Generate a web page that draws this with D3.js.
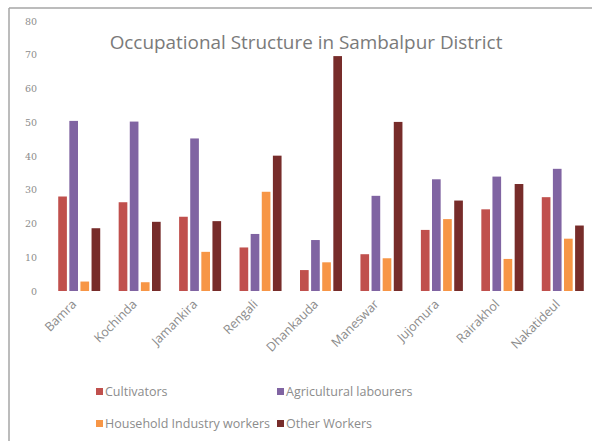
<!DOCTYPE html>
<html>
<head>
<meta charset="utf-8">
<script src="https://cdn.jsdelivr.net/npm/d3@7/dist/d3.min.js"></script>
<style>
  html, body { margin: 0; padding: 0; background: #fff; }
  svg { display: block; }
</style>
</head>
<body>
<script>
const categories = ["Bamra", "Kochinda", "Jamankira", "Rengali", "Dhankauda", "Maneswar", "Jujomura", "Rairakhol", "Nakatideul"];
const seriesNames = ["Cultivators", "Agricultural labourers", "Household Industry workers", "Other Workers"];
const cultivators = [28.0, 26.3, 22.0, 12.9, 6.2, 10.9, 18.1, 24.2, 27.8];
const agricultural = [50.4, 50.2, 45.2, 16.9, 15.1, 28.2, 33.1, 33.9, 36.2];
const household = [2.8, 2.6, 11.6, 29.4, 8.5, 9.7, 21.3, 9.5, 15.5];
const otherWorkers = [18.6, 20.5, 20.7, 40.1, 69.6, 50.1, 26.8, 31.7, 19.4];
const yTicks = [0, 10, 20, 30, 40, 50, 60, 70, 80];
const colors = ["#c0504d", "#8064a2", "#f79646", "#772c2a"];

const seriesValues = [cultivators, agricultural, household, otherWorkers];
const W = 592, H = 443;

const svg = d3.select("body").append("svg").attr("width", W).attr("height", H);

// frame (left and top edges visible)
svg.append("line").attr("x1", 9).attr("y1", 8).attr("x2", W).attr("y2", 8)
  .attr("stroke", "#a6a6a6").attr("stroke-width", 1.5);
svg.append("line").attr("x1", 9).attr("y1", 8).attr("x2", 9).attr("y2", 441)
  .attr("stroke", "#a6a6a6").attr("stroke-width", 1.5);

const x0 = d3.scaleBand().domain(categories).range([49, 593]).paddingInner(0).paddingOuter(0);
const x1 = d3.scaleBand().domain(seriesNames).range([-21, 21]).paddingInner(0.22);
const y = d3.scaleLinear().domain([0, 80]).range([291, 21]);

// title
svg.append("text").attr("x", 306).attr("y", 49).attr("text-anchor", "middle")
  .attr("font-family", "Open Sans, sans-serif").attr("font-size", 18.9)
  .attr("fill", "#7a7a7a").text("Occupational Structure in Sambalpur District");

// y axis labels
const yAxis = d3.axisLeft(y).tickValues(yTicks).tickSize(0).tickPadding(0);
const yg = svg.append("g").attr("transform", "translate(37,0)").call(yAxis);
yg.select(".domain").remove();
yg.selectAll("text").attr("font-family", "DejaVu Serif, serif").attr("font-size", 9.5).attr("fill", "#8c8c8c");

// bars
const groups = svg.append("g").selectAll("g").data(categories).join("g")
  .attr("transform", d => `translate(${x0(d) + x0.bandwidth() / 2},0)`);
groups.selectAll("rect").data((d, i) => seriesNames.map((s, j) => ({ s, j, v: seriesValues[j][i] })))
  .join("rect")
  .attr("x", d => x1(d.s))
  .attr("width", x1.bandwidth())
  .attr("y", d => y(d.v))
  .attr("height", d => y(0) - y(d.v))
  .attr("fill", d => colors[d.j]);

// x axis labels
const xAxis = d3.axisBottom(x0).tickSize(0).tickPadding(0);
const xg = svg.append("g").attr("transform", `translate(0,${y(0)})`).call(xAxis);
xg.select(".domain").remove();
xg.selectAll("text")
  .attr("font-family", "Open Sans, sans-serif").attr("font-size", 12.5).attr("fill", "#8c8c8c")
  .attr("text-anchor", "end").attr("dy", null).attr("y", 0)
  .attr("transform", "translate(-2,14) rotate(-45)");

// legend
const legendPos = [[96, 392], [277, 392], [96, 424], [277, 424]];
const lg = svg.append("g").selectAll("g").data(seriesNames).join("g")
  .attr("transform", (d, i) => `translate(${legendPos[i][0]},${legendPos[i][1]})`);
lg.append("rect").attr("x", 0).attr("y", -4).attr("width", 7).attr("height", 7)
  .attr("fill", (d, i) => colors[i]);
lg.append("text").attr("x", 9).attr("y", 0).attr("dy", "0.35em")
  .attr("font-family", "Open Sans, sans-serif").attr("font-size", 12.5).attr("fill", "#8c8c8c")
  .text(d => d);
</script>
</body>
</html>
